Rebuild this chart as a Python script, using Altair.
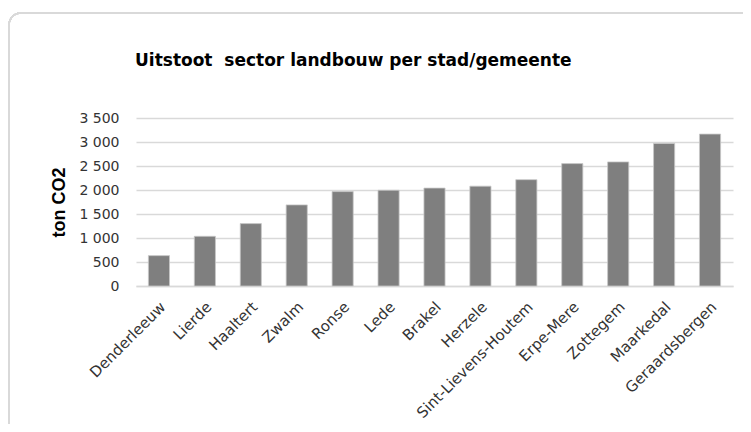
import altair as alt
import pandas as pd

cities = ["Denderleeuw", "Lierde", "Haaltert", "Zwalm", "Ronse", "Lede", "Brakel",
          "Herzele", "Sint-Lievens-Houtem", "Erpe-Mere", "Zottegem", "Maarkedal",
          "Geraardsbergen"]
values = [633, 1035, 1300, 1690, 1967, 1995, 2040, 2080, 2215, 2550, 2585, 2970, 3165]
y_ticks = [0, 500, 1000, 1500, 2000, 2500, 3000, 3500]
title_text = "Uitstoot\u00a0 sector landbouw per stad/gemeente"

df = pd.DataFrame({"stad": cities, "ton": values})

FONT = "DejaVu Sans"

bars = alt.Chart(df).mark_bar(color="#7f7f7f", stroke="#c8c8c8", strokeWidth=0.8).encode(
    x=alt.X("stad:N", sort=cities, title=None,
            scale=alt.Scale(paddingInner=0.54, paddingOuter=0.27),
            axis=alt.Axis(labelAngle=-45, labelFont=FONT, labelFontSize=15,
                          labelColor="#333333", ticks=False, domain=True,
                          domainColor="#d9d9d9", domainWidth=1.5,
                          labelPadding=18, labelOffset=4, labelAlign="right",
                          labelBaseline="middle", labelOverlap=False, labelLimit=0)),
    y=alt.Y("ton:Q", title="ton CO2",
            scale=alt.Scale(domain=[0, 3500], nice=False),
            axis=alt.Axis(values=y_ticks, format=",d", labelFont=FONT, labelFontSize=14,
                          labelColor="#333333", ticks=False, domain=False,
                          labelOverlap=False,
                          labelPadding=17, gridColor="#d9d9d9", gridWidth=1.5,
                          titleFont="Liberation Sans", titleFontSize=18,
                          titleFontWeight="bold", titleColor="#000000",
                          titlePadding=10, labelExpr="replace(datum.label, ',', ' ')")),
)

frame = alt.Chart(df).mark_rect(
    fill=None, stroke="#d9d9d9", strokeWidth=1.5, cornerRadius=12
).encode(
    x=alt.value(-127), x2=alt.value(630), y=alt.value(-105), y2=alt.value(325)
)

title = alt.Chart(pd.DataFrame({"t": [title_text]})).mark_text(
    font=FONT, fontSize=17, fontWeight="bold", color="#000000",
    align="left", baseline="middle"
).encode(text="t:N", x=alt.value(-1), y=alt.value(-57))

chart = alt.layer(frame, bars, title).properties(
    width=597, height=168,
    autosize=alt.AutoSizeParams(type="none"),
    padding={"left": 128, "top": 110, "right": 10, "bottom": 138},
).configure(background="white").configure_view(stroke=None)

chart.save("out.html", embed_options={"renderer": "svg", "actions": False})
